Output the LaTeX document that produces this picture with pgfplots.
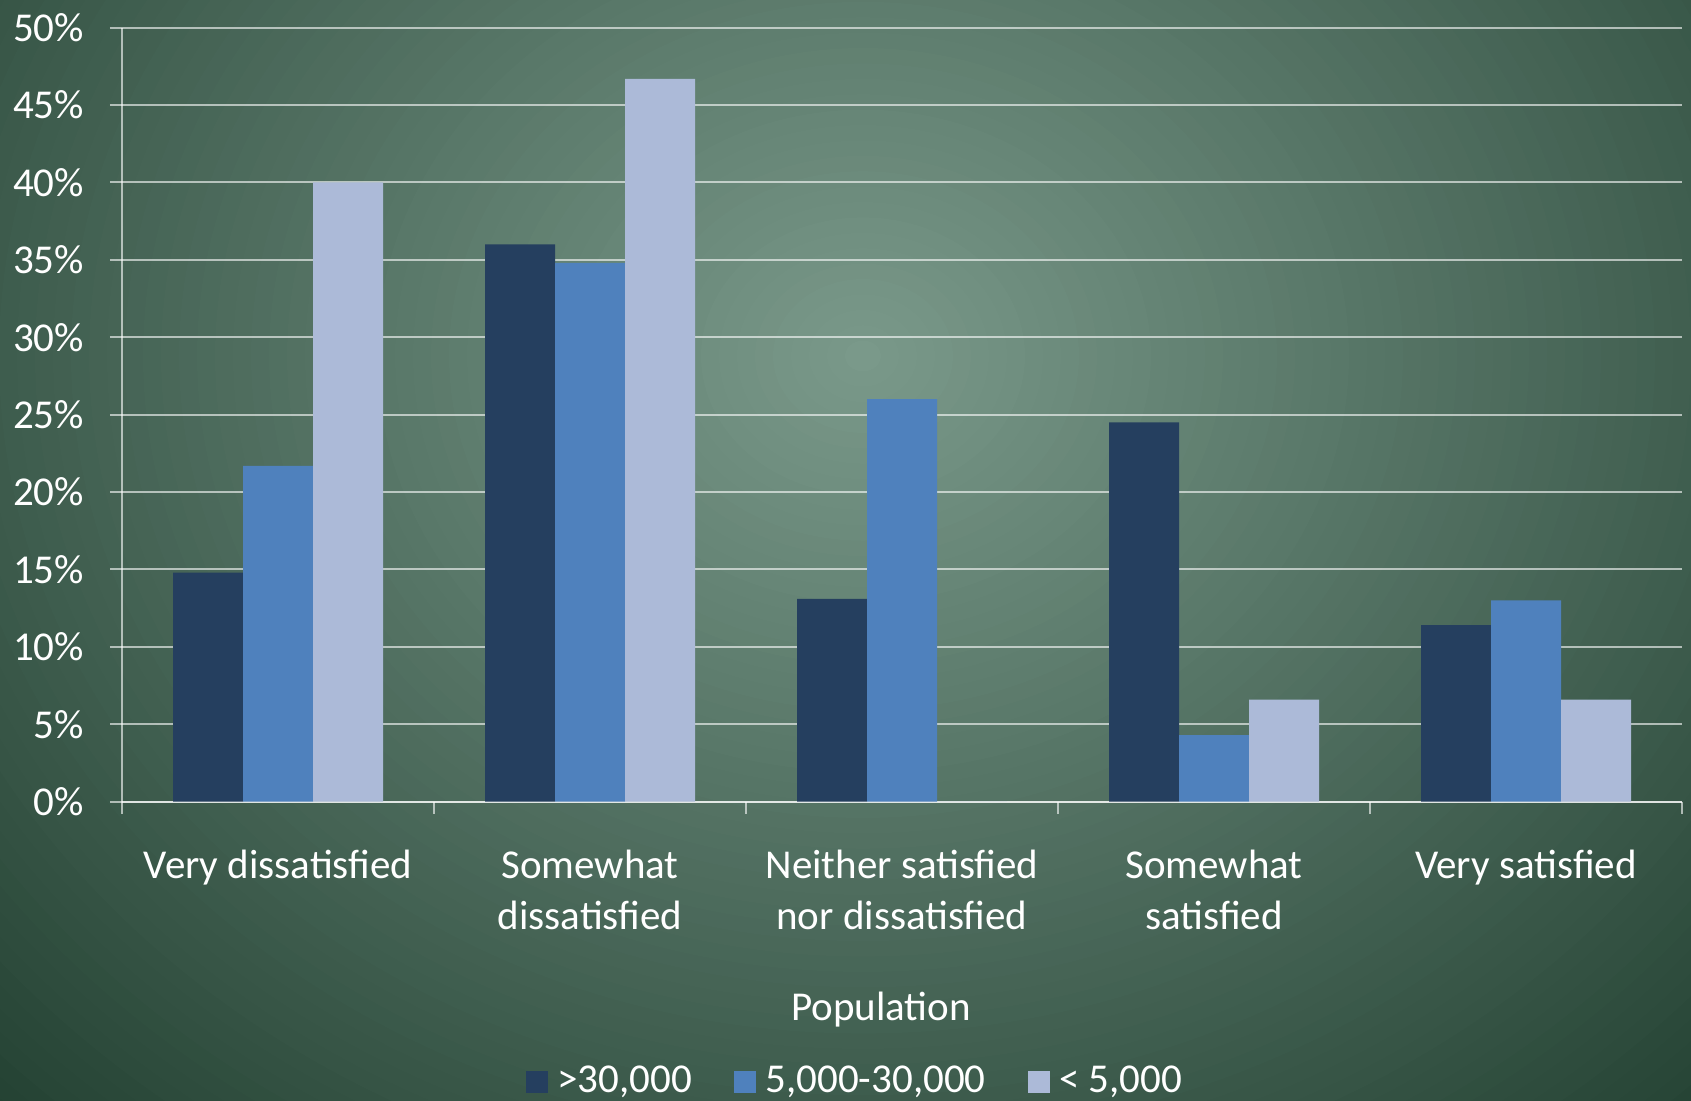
\documentclass[border=0pt]{standalone}
\usepackage{pgfplots}
\pgfplotsset{compat=1.18}
\usepackage{fontspec}
\setmainfont{Carlito}

% bar fills
\definecolor{barDark}{HTML}{253F5F}
\definecolor{barMid}{HTML}{4F81BD}
\definecolor{barLight}{HTML}{ACBAD8}
% chalkboard background: light centre, dark rim
\definecolor{bgA}{HTML}{7B9A8B}
\definecolor{bgE}{HTML}{203E2F}

\pgfplotsset{
  sq legend/.style={legend image code/.code={%
    \fill[##1] (0pt,-5.6pt) rectangle (11.2pt,5.6pt);}},
}

\begin{document}
\fontsize{20.5pt}{25.5pt}\selectfont
\begin{tikzpicture}
\begin{scope}
  \clip (0,0) rectangle (845.5pt,550.5pt);
  \fill[bgE] (0,0) rectangle (845.5pt,550.5pt);
  % elliptical glow, drawn from the rim inwards
  \foreach \k in {75,...,1}{
    \pgfmathsetmacro{\f}{\k/50}
    \pgfmathsetmacro{\p}{min(100,69.5*\f)}
    \fill[bgE!\p!bgA] (431.5pt,372.5pt) ellipse [x radius=\f*450pt, y radius=\f*385pt];
  }
\end{scope}

\begin{axis}[
  at={(61pt,149.65pt)}, anchor=south west,
  scale only axis, width=780pt, height=387pt,
  xmin=-0.5, xmax=4.5, ymin=0, ymax=50,
  axis x line*=bottom, axis y line*=left,
  axis line style={white, opacity=0.6, line width=1pt},
  ybar=0pt, bar width=35pt,
  xtick={-0.5,0.5,1.5,2.5,3.5,4.5}, xticklabels={},
  extra x ticks={0,1,2,3,4},
  extra x tick labels={Very dissatisfied, {Somewhat\\dissatisfied},
    {Neither satisfied\\nor dissatisfied}, {Somewhat\\satisfied}, Very satisfied},
  extra x tick style={major tick length=0pt},
  ytick={0,5,10,15,20,25,30,35,40,45,50},
  yticklabels={0\%,5\%,10\%,15\%,20\%,25\%,30\%,35\%,40\%,45\%,50\%},
  ymajorgrids,
  major grid style={white, opacity=0.6, line width=1pt},
  tick align=outside, major tick length=6pt,
  tick style={white, opacity=0.6, line width=1pt},
  tick label style={text=white},
  x tick label style={align=center, yshift=-17.2pt},
  y tick label style={xshift=-6pt},
  xlabel={Population},
  xlabel style={text=white, at={(axis description cs:0.4865,-0.268)}, anchor=center},
  legend columns=3,
  legend style={draw=none, fill=none, text=white,
    at={(axis description cs:0.4705,-0.3625)}, anchor=center,
    /tikz/every odd column/.append style={column sep=2.6pt},
    /tikz/every even column/.append style={column sep=19pt}},
]
\addplot[fill=barDark, draw=none, sq legend]
  coordinates {(0,14.8) (1,36.0) (2,13.1) (3,24.5) (4,11.4)};
\addlegendentry{>30,000}
\addplot[fill=barMid, draw=none, sq legend]
  coordinates {(0,21.7) (1,34.8) (2,26.0) (3,4.3) (4,13.0)};
\addlegendentry{5,000-30,000}
\addplot[fill=barLight, draw=none, sq legend]
  coordinates {(0,40.0) (1,46.7) (2,0) (3,6.6) (4,6.6)};
\addlegendentry{< 5,000}
\end{axis}

\pgfresetboundingbox
\useasboundingbox (0,0) rectangle (845.5pt,550.5pt);
\end{tikzpicture}
\end{document}
